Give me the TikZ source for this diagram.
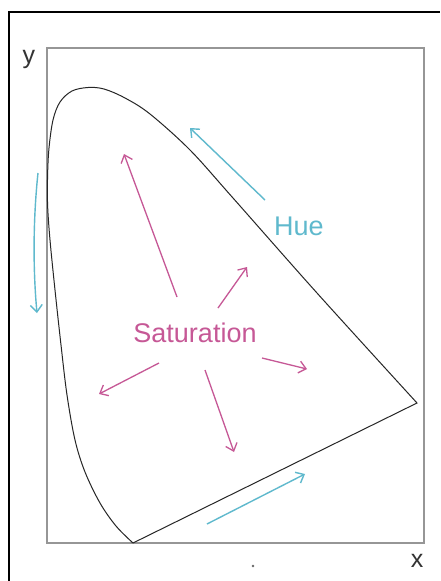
\documentclass[tikz,border=0pt]{standalone}
\usepackage{fontspec}
\setmainfont{Liberation Sans}
\usetikzlibrary{arrows.meta}
\definecolor{huec}{RGB}{95,185,205}
\definecolor{satc}{RGB}{198,88,150}
\definecolor{framegray}{RGB}{150,150,150}
\tikzset{
  huearrow/.style={draw=huec, line width=1.4pt, -{Straight Barb[length=7pt,width=12pt,line width=1.4pt]}},
  satarrow/.style={draw=satc, line width=1.3pt, -{Straight Barb[length=7pt,width=12pt,line width=1.3pt]}},
  bigtext/.style={font=\fontsize{27}{32}\selectfont, inner sep=0pt},
  axistext/.style={font=\fontsize{25}{30}\selectfont, inner sep=0pt, text=black!80}
}
\begin{document}
\begin{tikzpicture}[x=1pt, y=-1pt]
\useasboundingbox (0,0) rectangle (440,581);
\fill[white] (0,0) rectangle (440,581);
% outer frame (right and bottom sides outside the picture)
\draw[line width=2.2pt, black] (9,581) -- (9,12) -- (440,12);
% inner axes box
\draw[framegray, line width=1.5pt] (47,48) rectangle (424,543);
% axis labels
\node[axistext] (ylab) at (29,59) {y};
\node[axistext] (xlab) at (417,561) {x};
\fill[black!60] (253,566) circle (1.4pt);
% spectral locus
\coordinate (bot) at (133,543);
\coordinate (red) at (417,403);
\draw[black!85, line width=1pt] plot[smooth, tension=0.55] coordinates {
  (133,543) (116,526) (100,503) (85,472) (75,440) (67,395) (61,345) (55,290) (50,240) (47.6,205) (47.6,175) (49,148) (53,120) (60,102) (72,91) (88,87.5) (104,89) (125,98) (150,114) (190,150) (233,198) (317,293) (417,403)
} -- (bot);
% labels
\node[bigtext, text=huec] (hue) at (299,226) {Hue};
\node[bigtext, text=satc] (sat) at (195,333) {Saturation};
% hue arrows
\coordinate (h1s) at (265,200); \coordinate (h1e) at (190,128);
\draw[huearrow] (h1s) -- (h1e);
\coordinate (h2s) at (38,173); \coordinate (h2e) at (37,313);
\draw[huearrow] (h2s) .. controls (33,220) and (33,270) .. (h2e);
\coordinate (h3s) at (207,524); \coordinate (h3e) at (305,474);
\draw[huearrow] (h3s) -- (h3e);
% saturation arrows
\coordinate (s1s) at (177,297); \coordinate (s1e) at (124,154);
\draw[satarrow] (s1s) -- (s1e);
\coordinate (s2s) at (218,308); \coordinate (s2e) at (247,267);
\draw[satarrow] (s2s) -- (s2e);
\coordinate (s3s) at (262,358); \coordinate (s3e) at (307,369);
\draw[satarrow] (s3s) -- (s3e);
\coordinate (s4s) at (205,370); \coordinate (s4e) at (234,452);
\draw[satarrow] (s4s) -- (s4e);
\coordinate (s5s) at (159,363); \coordinate (s5e) at (99,394);
\draw[satarrow] (s5s) -- (s5e);
\end{tikzpicture}
\end{document}
